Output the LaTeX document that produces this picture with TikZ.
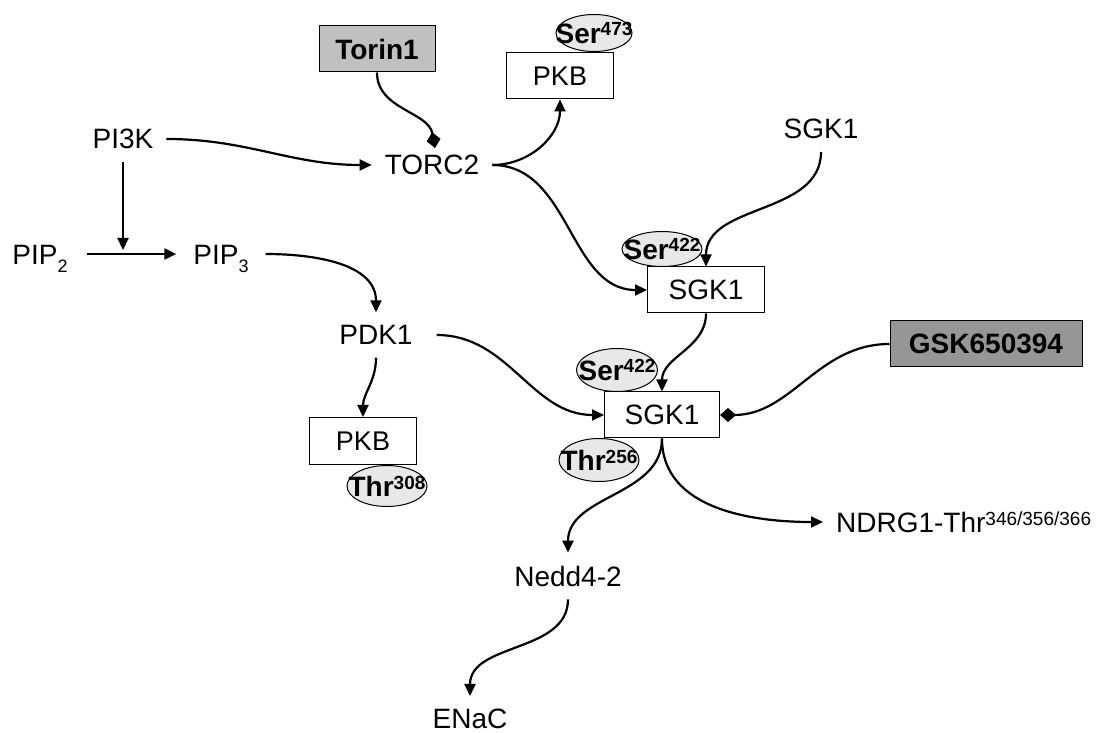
\documentclass[tikz,border=0pt]{standalone}
\usepackage{fontspec}
\setmainfont{Liberation Sans}
\usepackage{tikz}
\usetikzlibrary{arrows.meta,shapes.geometric}

\definecolor{sitegray}{HTML}{E8E8E8}
\definecolor{toringray}{HTML}{C0C0C0}
\definecolor{gskgray}{HTML}{969696}

\newcommand{\upsite}[1]{\raisebox{3.6pt}{\fontsize{9.5}{10}\selectfont #1}}
\newcommand{\downsite}[1]{\raisebox{-3.8pt}{\fontsize{9}{10}\selectfont #1}}

\begin{document}
\begin{tikzpicture}[x=0.5pt, y=-0.5pt, line width=1.1pt,
    lbl/.style={inner sep=6pt, font=\fontsize{14}{16}\selectfont},
    box/.style={draw, line width=0.5pt, fill=white, minimum height=23pt, inner sep=0pt, font=\fontsize{13.5}{16}\selectfont},
    drug/.style={box, font=\bfseries\fontsize{14}{16}\selectfont},
    site/.style={ellipse, draw, line width=0.5pt, fill=sitegray, inner sep=0pt},
    sitetext/.style={inner sep=0pt, font=\bfseries\fontsize{14}{15}\selectfont},
    arr/.style={-{Triangle[length=6pt,width=5.5pt]}},
    inh/.style={-{Diamond[length=8pt,width=7pt]}}]
    \useasboundingbox (0,0) rectangle (1100,733);

    % plain labels
    \node[lbl] (pik) at (123,139) {PI3K};
    \node[lbl, anchor=base] (pip2) at (40,265) {PIP\downsite{2}};
    \node[lbl, anchor=base] (pip3) at (221,265) {PIP\downsite{3}};
    \node[lbl] (torc) at (432,165) {TORC2};
    \node[lbl] (sgkt) at (821,129) {SGK1};
    \node[lbl] (pdk) at (376,335) {PDK1};
    \node[lbl] (nedd) at (568,576) {Nedd4-2};
    \node[lbl] (enac) at (470,719) {ENaC};
    \node[lbl, anchor=west] (ndrg) at (823,522) {NDRG1-Thr\upsite{346/356/366}};

    % boxes
    \node[drug, fill=toringray, minimum width=58pt] (torin) at (377,49) {Torin1};
    \node[drug, fill=gskgray, minimum width=96pt] (gsk) at (986,344) {GSK650394};
    \node[box, minimum width=53.5pt] (pkbt) at (560,76) {PKB};
    \node[box, minimum width=58.5pt, font=\fontsize{14}{16}\selectfont] (sgkm) at (706,290) {SGK1};
    \node[box, minimum width=57.5pt, font=\fontsize{14}{16}\selectfont] (sgkl) at (662,415) {SGK1};
    \node[box, minimum width=53.5pt, minimum height=23.5pt] (pkbl) at (363,441) {PKB};

    % phosphorylation sites
    \node[site, minimum width=38pt, minimum height=18.5pt, label={[sitetext]center:Ser\upsite{473}}] (s473) at (594,33) {};
    \node[site, minimum width=40pt, minimum height=17.5pt, label={[sitetext]center:Ser\upsite{422}}] (s422a) at (662,249) {};
    \node[site, minimum width=40.5pt, minimum height=21.5pt, label={[sitetext]center:Ser\upsite{422}}] (s422b) at (617,370) {};
    \node[site, minimum width=40pt, minimum height=21.5pt, label={[sitetext]center:Thr\upsite{256}}] (t256) at (599,460) {};
    \node[site, minimum width=40pt, minimum height=20.5pt, label={[sitetext]center:Thr\upsite{308}}] (t308) at (387,486) {};

    % connectors
    \draw[arr] ([shift={(3pt,5.5pt)}]pip2.base east) -- coordinate[pos=0.41] (pipmid) ([shift={(-2pt,5.5pt)}]pip3.base west);
    \draw[arr, shorten >=2pt] (pik.south) -- (pik.south |- pipmid);
    \draw[arr] (pik.east) to[out=0, in=180] (torc.west);
    \draw[inh] (torin.south) to[out=-90, in=100] ([shift={(1.5pt,-3pt)}]torc.north);
    \draw[arr] (torc.east) to[out=0, in=-90] (pkbt.south);
    \draw[arr] (torc.east) to[out=0, in=180] (sgkm.west);
    \draw[arr] (sgkt.south) to[out=-90, in=90] (sgkm.north);
    \draw[arr] (sgkm.south) to[out=-90, in=90] (sgkl.north);
    \draw[inh] (gsk.west) to[out=180, in=0] (sgkl.east);
    \draw[arr] ([shift={(2pt,5.5pt)}]pip3.base east) to[out=0, in=90] (pdk.north);
    \draw[arr] (pdk.south) to[out=-90, in=90] (pkbl.north);
    \draw[arr] ([xshift=5.5pt]pdk.east) to[out=0, in=180] (sgkl.west);
    \draw[arr] (sgkl.south) to[out=-90, in=90] (nedd.north);
    \draw[arr] (sgkl.south) to[out=-90, in=180] (ndrg.west);
    \draw[arr] (nedd.south) to[out=-90, in=90] (enac.north);
\end{tikzpicture}
\end{document}
